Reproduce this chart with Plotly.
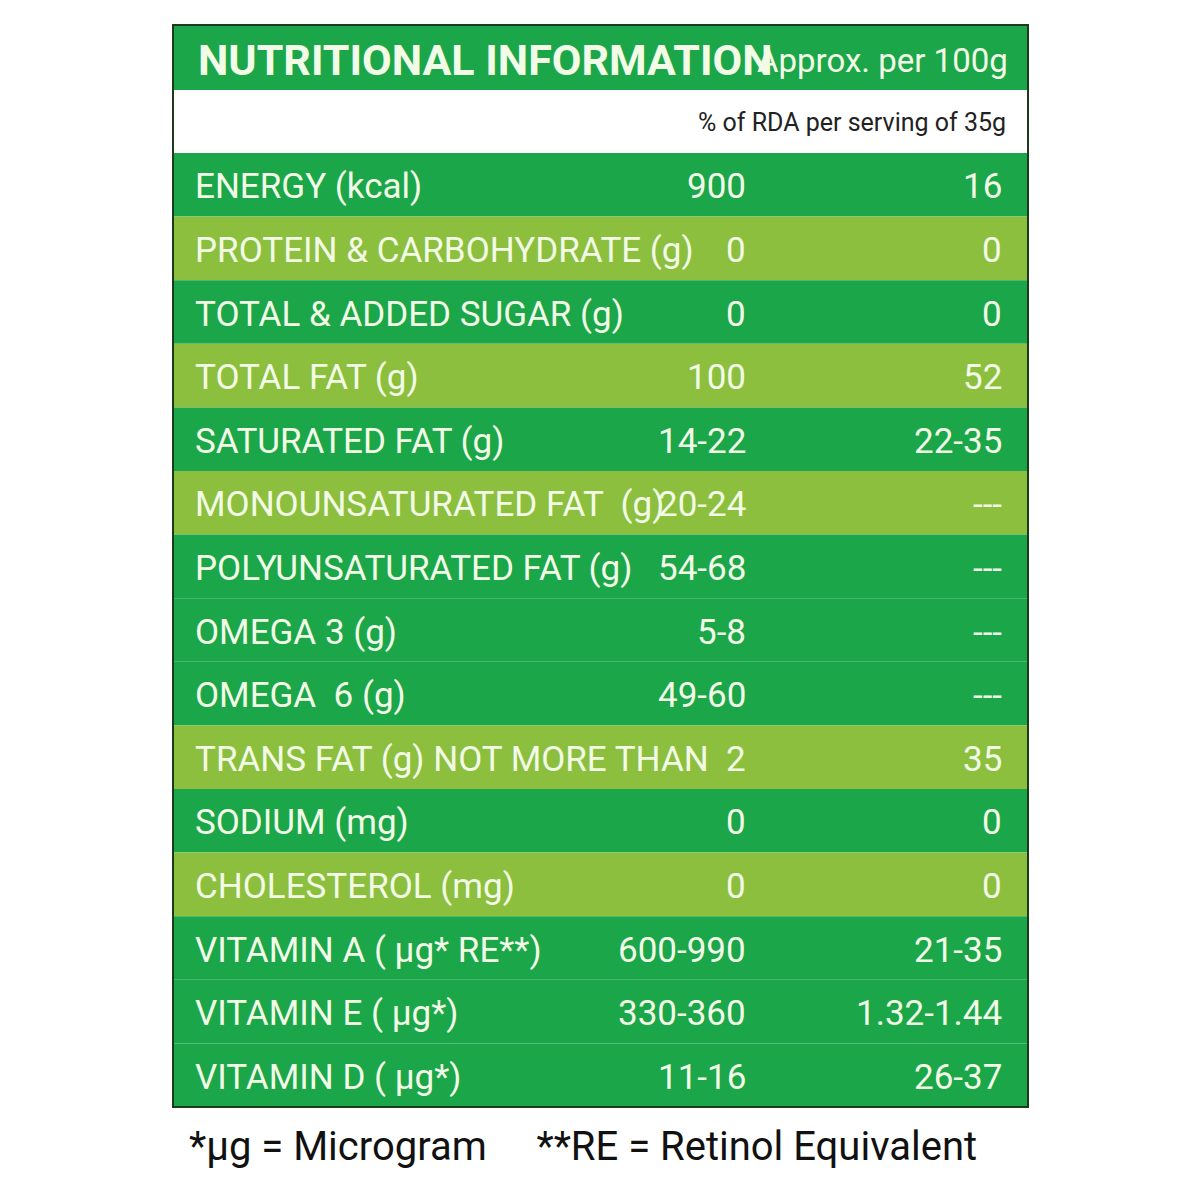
import plotly.graph_objects as go

nutrients = ["ENERGY (kcal)", "PROTEIN & CARBOHYDRATE (g)", "TOTAL & ADDED SUGAR (g)", "TOTAL FAT (g)",
             "SATURATED FAT (g)", "MONOUNSATURATED FAT  (g)", "POLYUNSATURATED FAT (g)", "OMEGA 3 (g)",
             "OMEGA  6 (g)", "TRANS FAT (g) NOT MORE THAN", "SODIUM (mg)", "CHOLESTEROL (mg)",
             "VITAMIN A ( μg* RE**)", "VITAMIN E ( μg*)", "VITAMIN D ( μg*)"]
per_100g = ["900", "0", "0", "100", "14-22", "20-24", "54-68", "5-8", "49-60", "2", "0", "0",
            "600-990", "330-360", "11-16"]
rda = ["16", "0", "0", "52", "22-35", "---", "---", "---", "---", "35", "0", "0",
       "21-35", "1.32-1.44", "26-37"]
light_rows = [False, True, False, True, False, True, False, False, False, True, False, True, False, False, False]

DARK = "#1ba64a"
LIGHT = "#8dbf3e"
TXT = "#f2fbe6"
FONT = "Roboto, sans-serif"
O = 8  # page body offset

L, R, TOP, BOT = 173 - O, 1028 - O, 25 - O, 1107 - O
y0 = 153 - O
rh = (BOT - y0) / len(nutrients)

shapes = [
    dict(type="rect", x0=L, x1=R, y0=TOP, y1=90 - O, fillcolor=DARK, line_width=0),
    dict(type="rect", x0=L, x1=R, y0=90 - O, y1=y0, fillcolor="white", line_width=0),
]
ann = [
    dict(x=196 - O, y=60 - O, text="<b>NUTRITIONAL INFORMATION</b>", xanchor="left", font=dict(size=43, color=TXT, family=FONT)),
    dict(x=1010 - O, y=60 - O, text="Approx. per 100g", xanchor="right", font=dict(size=33, color=TXT, family=FONT)),
    dict(x=1008 - O, y=122 - O, text="% of RDA per serving of 35g", xanchor="right", font=dict(size=25, color="#222", family=FONT)),
    dict(x=583 - O, y=1146 - O, text="*μg = Microgram     **RE = Retinol Equivalent", xanchor="center",
         font=dict(size=40, color="#111", family=FONT)),
]
for i, (n, a, b, lt) in enumerate(zip(nutrients, per_100g, rda, light_rows)):
    ya, yb = y0 + i * rh, y0 + (i + 1) * rh
    yc = (ya + yb) / 2 + 2
    shapes.append(dict(type="rect", x0=L, x1=R, y0=ya, y1=yb, fillcolor=LIGHT if lt else DARK, line_width=0))
    f = dict(size=35, color=TXT, family=FONT)
    ann.append(dict(x=193 - O, y=yc, text=n, xanchor="left", font=f))
    ann.append(dict(x=748 - O, y=yc, text=a, xanchor="right", font=f))
    ann.append(dict(x=1004 - O, y=yc, text=b, xanchor="right", font=f))
shapes.append(dict(type="rect", x0=L, x1=R, y0=TOP, y1=BOT, line=dict(color="#1d3a1d", width=2)))
for a in ann:
    a.update(showarrow=False, yanchor="middle", xref="x", yref="y")

fig = go.Figure()
fig.update_layout(width=1200, height=1200, margin=dict(l=0, r=0, t=0, b=0),
                  paper_bgcolor="white", plot_bgcolor="white", shapes=shapes, annotations=ann,
                  xaxis=dict(range=[0, 1200], visible=False, fixedrange=True),
                  yaxis=dict(range=[1200, 0], visible=False, fixedrange=True), showlegend=False)
fig.write_html("out.html")
